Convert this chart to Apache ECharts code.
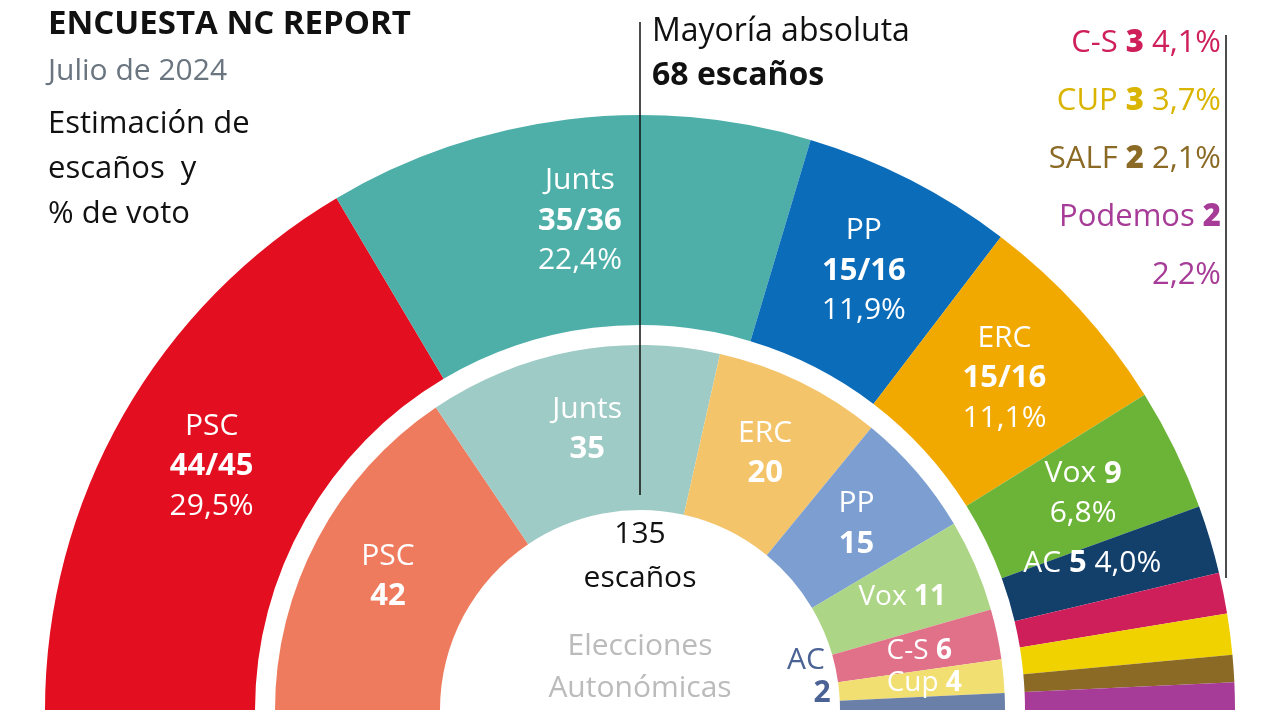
<!DOCTYPE html>
<html><head><meta charset="utf-8">
<script src="https://cdn.jsdelivr.net/npm/echarts@6/dist/echarts.min.js"></script>
<style>html,body{margin:0;background:#fff}#main{width:1280px;height:720px}</style>
</head><body><div id="main"></div>
<script>
// estimación NC Report (julio 2024)
var outerNames = ['PSC','Junts','PP','ERC','Vox','AC','C-S','CUP','SALF','Podemos'];
var outerSeats = [44.5,35.5,15.5,15.5,9,5,3,3,2,2];
var outerSeatLabels = ['44/45','35/36','15/16','15/16','9','5','3','3','2','2'];
var outerPct = ['29,5%','22,4%','11,9%','11,1%','6,8%','4,0%','4,1%','3,7%','2,1%','2,2%'];
var outerColors = ['#e30e1f','#4eafa9','#0b6cb9','#f1a900','#6cb437','#133f6b','#cf1f5b','#f0d200','#8b6a25','#a63c97'];
// elecciones autonómicas
var innerNames = ['PSC','Junts','ERC','PP','Vox','C-S','Cup','AC'];
var innerSeats = [42,35,20,15,11,6,4,2];
var innerColors = ['#ee7b5e','#9fcbc6','#f4c46b','#7c9ed1','#add586','#e07189','#f1df72','#6a80a9'];

var FONT = 'Open Sans';
var myChart = echarts.init(document.getElementById('main'));

function half(names, seats, colors){
  var d = names.map(function(n,i){ return {name:n, value:seats[i], itemStyle:{color:colors[i]}}; });
  var tot = seats.reduce(function(a,b){return a+b;},0);
  d.push({name:'_', value:tot, itemStyle:{color:'transparent'}, label:{show:false}});
  return d;
}
var outerData = half(outerNames, outerSeats, outerColors);
outerData.forEach(function(d,i){
  if (i >= outerNames.length) return;
  if (i < 4) d.label = {show:true, formatter: '{n|'+d.name+'}\n{b|'+outerSeatLabels[i]+'}\n{n|'+outerPct[i]+'}'};
  else if (i == 4) d.label = {show:true, formatter: '{n|Vox }{b|9}\n{n|'+outerPct[i]+'}'};
  else if (i == 5) d.label = {show:true, formatter: '{n|AC }{b|5}{n| '+outerPct[i]+'}', offset:[-20,-5]};
  else d.label = {show:false};
});
var innerData = half(innerNames, innerSeats, innerColors);
innerData.forEach(function(d,i){
  if (i >= innerNames.length) return;
  if (i < 4) d.label = {show:true, formatter: '{n|'+d.name+'}\n{b|'+innerSeats[i]+'}'};
  else if (i < 7) d.label = {show:true, formatter: '{s|'+d.name+' }{sb|'+innerSeats[i]+'}', rotate:0};
  else d.label = {show:false};
});
var rich = {
  n:{fontFamily:FONT, fontSize:30, color:'#fff', lineHeight:40},
  b:{fontFamily:FONT, fontSize:31, fontWeight:'bold', color:'#fff', lineHeight:40},
  s:{fontFamily:FONT, fontSize:28, color:'#fff'},
  sb:{fontFamily:FONT, fontSize:28, fontWeight:'bold', color:'#fff'}
};
var legendRows = [
  [{t:'C-S ',c:'#cf1f5b'},{t:'3',c:'#cf1f5b',b:1},{t:' 4,1%',c:'#cf1f5b'}],
  [{t:'CUP ',c:'#d9b400'},{t:'3',c:'#d9b400',b:1},{t:' 3,7%',c:'#d9b400'}],
  [{t:'SALF ',c:'#8b6a25'},{t:'2',c:'#8b6a25',b:1},{t:' 2,1%',c:'#8b6a25'}],
  [{t:'Podemos ',c:'#a63c97'},{t:'2',c:'#a63c97',b:1}],
  [{t:'2,2%',c:'#a63c97'}]
];
var graphics = [
  {type:'text', left:48, top:8, style:{text:'ENCUESTA NC REPORT', font:'bold 33px '+FONT, fill:'#111'}},
  {type:'text', left:48, top:56, style:{text:'Julio de 2024', font:'30px '+FONT, fill:'#6a7580'}},
  {type:'text', left:48, top:102, style:{text:'Estimación de\nescaños  y\n% de voto', font:'31px '+FONT, fill:'#111', lineHeight:45}},
  {type:'line', shape:{x1:640,y1:22,x2:640,y2:495}, style:{stroke:'#111', lineWidth:1.5}, z:100},
  {type:'line', shape:{x1:1226,y1:35,x2:1226,y2:578}, style:{stroke:'#111', lineWidth:1.5}, z:100},
  {type:'text', left:652, top:16, style:{text:'Mayoría absoluta', font:'32px '+FONT, fill:'#111'}},
  {type:'text', left:652, top:60, style:{text:'68 escaños', font:'bold 32px '+FONT, fill:'#111'}},
  {type:'text', x:640, y:512, style:{text:'135\nescaños', font:'30px '+FONT, fill:'#111', align:'center', lineHeight:44}},
  {type:'text', x:640, y:625, style:{text:'Elecciones\nAutonómicas', font:'30px '+FONT, fill:'#bbb', align:'center', lineHeight:42}, z:1},
  {type:'text', x:806, y:645, z:100, style:{text:'AC', font:'30px '+FONT, fill:'#4a6294', align:'center'}},
  {type:'text', x:822, y:678, z:100, style:{text:'2', font:'bold 30px '+FONT, fill:'#4a6294', align:'center'}}
];
legendRows.forEach(function(row,i){
  var rt = {}, s = '';
  row.forEach(function(p,j){ rt['p'+j] = {fontFamily:FONT, fontSize:31, fontWeight:p.b?'900':'normal', fill:p.c, color:p.c}; s += '{p'+j+'|'+p.t+'}'; });
  graphics.push({type:'text', x:1221, y:28+i*58, style:{text:s, rich:rt, align:'right'}});
});

myChart.setOption({
  backgroundColor:'#fff',
  animation:false,
  graphic: graphics,
  series:[
    {type:'pie', center:[640,710], radius:[385,595], startAngle:180, clockwise:true,
     silent:true, data:outerData,
     label:{position:'inside', rich:rich, lineHeight:40}, labelLine:{show:false}},
    {type:'pie', center:[640,710], radius:[200,365], startAngle:180, clockwise:true,
     silent:true, data:innerData,
     label:{position:'inside', rich:rich}, labelLine:{show:false}}
  ]
});
</script></body></html>
